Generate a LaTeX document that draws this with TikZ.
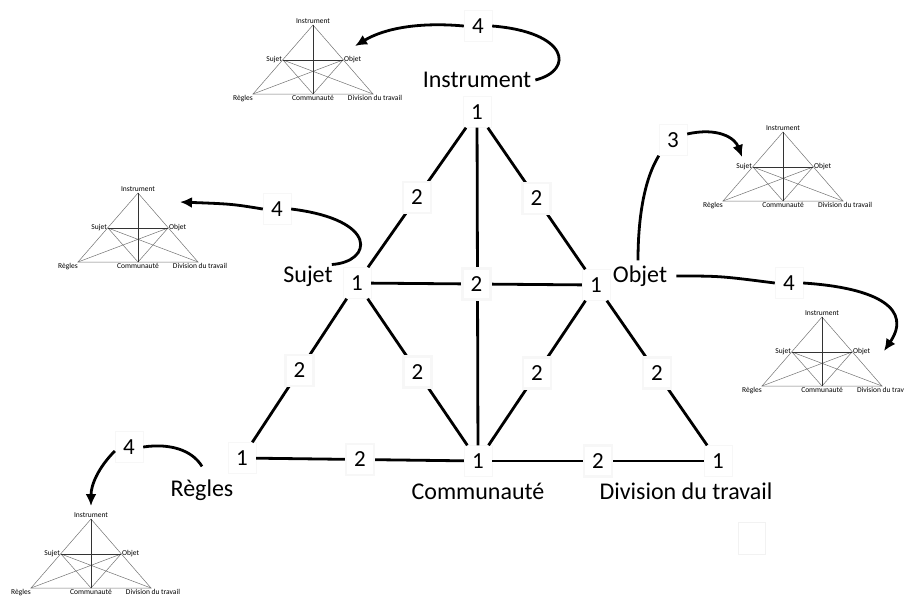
\documentclass[tikz,border=0pt]{standalone}
\usepackage{fontspec}
\setmainfont{Carlito}
\usetikzlibrary{arrows.meta}
\tikzset{
  num/.style={fill=white, draw=black!3, font=\fontsize{23}{25}\selectfont,
              minimum width=28, minimum height=31, inner sep=1pt},
  lbl/.style={font=\fontsize{24}{26}\selectfont, inner sep=1pt},
  mini/.style={font=\fontsize{7.5}{8}\selectfont, inner sep=1pt},
  link/.style={line width=2.8pt},
  curve/.style={line width=2.8pt},
  flow/.style={-{Latex[length=12pt,width=11pt]}, line width=2.8pt},
  minil/.style={black!55, line width=0.5pt},
  minid/.style={black!80, line width=0.7pt},
  minitri/.pic={
    \coordinate (-I) at (0,0);
    \coordinate (-S) at (-30,35);
    \coordinate (-O) at (30,35);
    \coordinate (-R) at (-60,69);
    \coordinate (-C) at (0,69);
    \coordinate (-D) at (60,69);
    \draw[minil] (-R) -- (-I) -- (-D) -- cycle;
    \draw[minil] (-S) -- (-C) -- (-O) (-S) -- (-D) (-O) -- (-R);
    \draw[minid] (-S) -- (-O) (-I) -- (-C);
    \node[mini, above] (-tI) at (-I) {Instrument};
    \node[mini, left] (-tS) at (-S) {Sujet};
    \node[mini, right] (-tO) at (-O) {Objet};
    \node[mini, below] (-tR) at ([xshift=-10pt]-R) {Règles};
    \node[mini, below] (-tC) at (-C) {Communauté};
    \node[mini, below] (-tD) at ([xshift=2pt]-D) {Division du travail};
  },
}

\begin{document}
\begin{tikzpicture}[x=1pt, y=-1pt]
  \useasboundingbox (0,0) rectangle (904,598);

  % small triangles
  \pic (mA) at (313,25) {minitri};
  \pic (mB) at (138,193) {minitri};
  \pic (mC) at (783,132) {minitri};
  \pic (mD) at (822,317) {minitri};
  \pic (mE) at (91,519) {minitri};

  % main triangle
  \node[num] (t1) at (477,112) {1};
  \node[num] (s1) at (357,283) {1};
  \node[num] (o1) at (596,285) {1};
  \node[num] (r1) at (242,458) {1};
  \node[num] (c1) at (478,461) {1};
  \node[num] (d1) at (718,461) {1};

  \draw[link] (t1) -- (c1);
  \draw[link] (t1) -- node[num] (e1) {2} (s1);
  \draw[link] (t1) -- node[num] (e2) {2} (o1);
  \draw[link] (s1) -- node[num] (e3) {2} (o1);
  \draw[link] (s1) -- node[num] (e4) {2} (r1);
  \draw[link] (s1) -- node[num] (e5) {2} (c1);
  \draw[link] (o1) -- node[num] (e6) {2} (c1);
  \draw[link] (o1) -- node[num] (e7) {2} (d1);
  \draw[link] (r1) -- node[num] (e8) {2} (c1);
  \draw[link] (c1) -- node[num] (e9) {2} (d1);

  \node[lbl] (linst) at (477,80) {Instrument};
  \node[lbl] (lsuj) at (308,276) {Sujet};
  \node[lbl] (lobj) at (640,276) {Objet};
  \node[lbl] (lreg) at (202,490) {Règles};
  \node[lbl] (lcom) at (478,491) {Communauté};
  \node[lbl] (ldiv) at (686,491) {Division du travail};

  % arrows to the small triangles
  \node[num] (fA) at (478,26) {4};
  \node[num] (fB) at (277,209) {4};
  \node[num] (fC) at (673,140) {3};
  \node[num] (fD) at (789,283) {4};
  \node[num] (fE) at (129,447) {4};
  \coordinate (tipA) at (355,46);
  \coordinate (tipB) at (180,202);
  \coordinate (tipC) at (742,157);
  \coordinate (tipD) at (884,351);
  \coordinate (tipE) at (91,506);

  \draw[curve] ([xshift=3pt]linst.east) .. controls (575,70) and (568,32) .. (fA.east);
  \draw[flow] (fA.west) .. controls (420,22) and (385,28) .. (tipA);
  \draw[curve] ([xshift=-2pt]lsuj.north east) .. controls (372,262) and (380,220) .. (fB.east);
  \draw[flow] (fB.west) .. controls (232,204) .. (tipB);
  \draw[curve] ([xshift=-2pt,yshift=4pt]lobj.north) .. controls (638,215) and (645,178) .. (fC.south west);
  \draw[flow] ([yshift=6pt]fC.east) .. controls (718,127) and (735,138) .. (tipC);
  \draw[curve] ([xshift=8pt]lobj.east) .. controls (720,276) .. (fD.west);
  \draw[flow] (fD.east) .. controls (880,288) and (912,310) .. (tipD);
  \draw[curve] ([yshift=12pt]lreg.north) .. controls (192,450) and (170,443) .. (fE.east);
  \draw[flow] ([yshift=-4pt]fE.west) .. controls (98,468) and (91,485) .. (tipE);

  \node[draw=black!5, minimum width=27, minimum height=32] (blank) at (752,538) {};
\end{tikzpicture}
\end{document}
